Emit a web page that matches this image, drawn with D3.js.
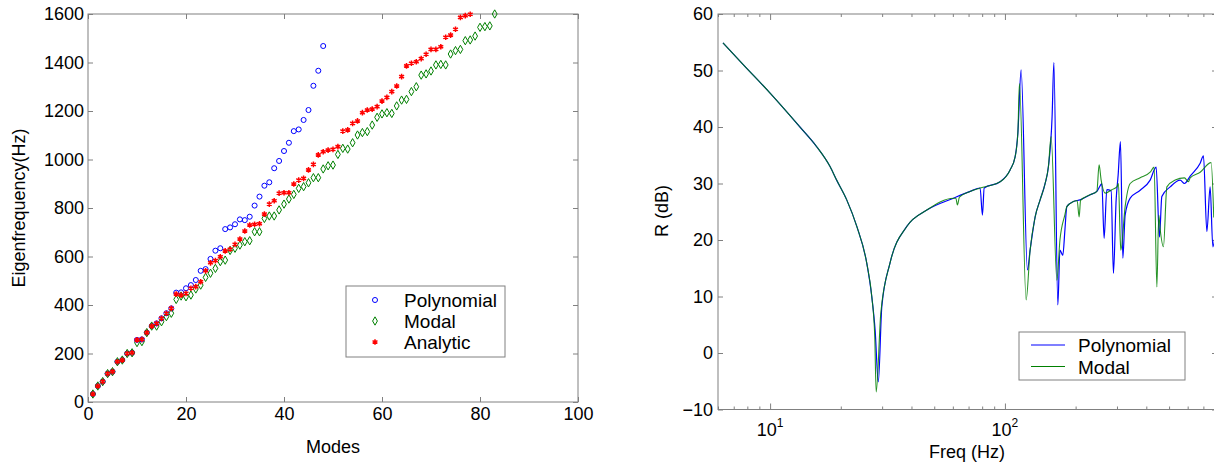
<!DOCTYPE html>
<html>
<head>
<meta charset="utf-8">
<script src="https://cdn.jsdelivr.net/npm/d3@7"></script>
<style>
  body { margin: 0; background: #fff; }
  svg text { font-family: "Liberation Sans", Arial, sans-serif; }
</style>
</head>
<body>
<svg id="chart" width="1214" height="468"></svg>
<script>
// ---- left panel : eigenfrequency per mode (mode number = index + 1) ----
const polyEig = [33, 66, 84, 117, 125, 166, 173, 200, 203, 256, 258, 286, 313, 324, 345, 366, 386,
  451, 452, 469, 482, 503, 541, 548, 590, 624, 634, 713, 720, 733, 753, 750, 764, 810, 847,
  892, 906, 964, 994, 1035, 1069, 1117, 1124, 1163, 1204, 1304, 1366, 1468];
const modalEig = [33, 66, 84, 117, 125, 166, 173, 200, 203, 245, 249, 286, 313, 313, 331, 352, 366,
  423, 437, 434, 441, 466, 482, 514, 531, 551, 579, 585, 625, 634, 647, 661, 665, 702, 702,
  757, 767, 767, 792, 816, 837, 856, 881, 888, 904, 925, 925, 961, 974, 977,
  1021, 1046, 1043, 1069, 1101, 1111, 1115, 1142, 1174, 1188, 1193, 1190, 1221, 1245, 1248, 1280,
  1300, 1348, 1353, 1365, 1390, 1392, 1390, 1435, 1449, 1454, 1490, 1493, 1509, 1545, 1548, 1551, 1600];
const analyticEig = [33, 66, 84, 117, 125, 166, 173, 200, 203, 256, 258, 286, 313, 324, 345, 366, 386,
  445, 441, 448, 469, 476, 496, 541, 574, 583, 599, 623, 630, 650, 672, 705, 730, 733, 735,
  775, 816, 830, 861, 863, 863, 899, 915, 922, 957, 980, 1019, 1032, 1039, 1042, 1053,
  1117, 1122, 1149, 1159, 1193, 1204, 1208, 1218, 1241, 1256, 1280, 1303, 1342, 1386, 1397, 1403,
  1416, 1434, 1454, 1454, 1465, 1504, 1513, 1537, 1586, 1593, 1599];
const modeTicks = [0, 20, 40, 60, 80, 100];
const eigTicks = [0, 200, 400, 600, 800, 1000, 1200, 1400, 1600];

// ---- right panel : R (dB) vs frequency ----
const polyFreq = [6.3, 7.7, 10, 13.4, 15.8, 18.0, 19.2, 21.2, 23.4, 25.8, 27.1, 28.0, 28.9, 29.9, 32.4, 38.2,
  46.5, 60.4, 71.1, 78.4, 80.2, 81.6, 95.4, 105.2, 110.5, 113.5, 117.2, 124.7, 128.0, 134.5, 141.2, 148.3,
  153.2, 158.8, 161.6, 168.0, 171.5, 176.4, 180.1, 183.5, 195.7, 209.0, 230.7, 246.3, 254.4, 258.6, 264.5,
  271.6, 283.3, 289.8, 297.6, 303.5, 310.4, 317.8, 325.0, 341.5, 376.6, 415.4, 440.5, 455.0, 465.8, 505.4,
  557.5, 581.5, 614.9, 678.3, 700.5, 724.3, 747.9, 768.0, 790];
const polyDb = [54.9, 51.0, 46.0, 40.0, 36.5, 33.0, 30.6, 27.1, 22.4, 15.9, 10.0, 4.1, -5.1, 8.2, 15.9, 22.4,
  25.3, 27.4, 28.6, 29.2, 24.4, 29.2, 30.3, 32.4, 34.7, 38.9, 50.1, 14.7, 18.2, 24.1, 27.1, 30.0,
  33.0, 41.8, 51.4, 8.5, 18.2, 17.3, 21.8, 25.9, 26.8, 27.1, 28.0, 28.6, 29.6, 30.0, 20.3,
  28.9, 28.7, 14.1, 27.1, 31.5, 37.4, 16.8, 24.4, 27.4, 28.8, 30.6, 32.9, 20.5, 27.7, 29.4,
  30.6, 30.0, 31.3, 33.6, 34.9, 21.5, 29.4, 18.8, 22];
const modalFreq = [6.3, 7.7, 10, 13.4, 15.8, 18.0, 19.2, 21.2, 23.4, 25.8, 27.1, 27.9, 28.3, 29.6, 32.4, 38.2,
  46.5, 60.4, 61.8, 62.8, 64.0, 71.1, 78.4, 95.4, 105.2, 110.5, 113.5, 115.3, 123.1, 128.0, 134.5, 141.2,
  148.3, 153.2, 157.3, 166.4, 171.5, 180.1, 183.5, 195.7, 203.0, 207.0, 210.0, 230.7, 246.3, 251.8, 256.9,
  267.2, 285.3, 299.7, 304.4, 309.5, 311.6, 325.0, 341.5, 376.6, 415.4, 431.9, 443.6, 452.0, 458.0, 473.2,
  489.3, 530.8, 581.5, 604.7, 614.9, 678.3, 755.3, 775];
const modalDb = [54.9, 51.0, 46.0, 40.0, 36.5, 33.0, 30.6, 27.1, 22.4, 15.9, 10.0, 3.0, -6.9, 7.0, 15.9, 22.4,
  25.3, 27.4, 27.4, 26.2, 27.6, 28.6, 29.2, 30.3, 32.4, 34.7, 38.9, 47.7, 9.4, 18.2, 24.1, 27.1,
  30.0, 33.0, 38.3, 12.9, 20.0, 24.5, 25.9, 26.8, 27.0, 24.1, 27.0, 28.0, 28.6, 33.3, 30.6,
  28.3, 28.9, 29.4, 30.0, 20.6, 18.2, 25.9, 30.0, 31.0, 32.0, 32.9, 11.7, 24.4, 22.0, 18.8,
  29.4, 30.6, 31.0, 30.3, 31.0, 32.0, 33.7, 24];
const dbTicks = [-10, 0, 10, 20, 30, 40, 50, 60];
const freqMajor = [10, 100];
const freqMinor = [6, 7, 8, 9, 20, 30, 40, 50, 60, 70, 80, 90, 200, 300, 400, 500, 600, 700, 800];

const FONT = '"Liberation Sans", Arial, sans-serif';
const GREY = "#808080";
const svg = d3.select("#chart");

function styleAxis(g) {
  g.attr("font-family", FONT).attr("font-size", 18);
  g.select(".domain").remove();
  g.selectAll("line").attr("stroke", GREY);
  g.selectAll("text").attr("fill", "#000");
}

// ================= left panel =================
const xL = d3.scaleLinear().domain([0, 100]).range([88, 578]);
const yL = d3.scaleLinear().domain([0, 1600]).range([402, 14]);

svg.append("g").attr("transform", "translate(0,402)")
  .call(d3.axisBottom(xL).tickValues(modeTicks).tickSizeInner(-5).tickSizeOuter(0).tickPadding(5).tickFormat(d3.format("d")))
  .call(styleAxis);
svg.append("g").attr("transform", "translate(0,14)")
  .call(d3.axisTop(xL).tickValues(modeTicks).tickSizeInner(-5).tickSizeOuter(0).tickFormat(""))
  .call(styleAxis);
svg.append("g").attr("transform", "translate(88,0)")
  .call(d3.axisLeft(yL).tickValues(eigTicks).tickSizeInner(-5).tickSizeOuter(0).tickPadding(4).tickFormat(d3.format("d")))
  .call(styleAxis);
svg.append("g").attr("transform", "translate(578,0)")
  .call(d3.axisRight(yL).tickValues(eigTicks).tickSizeInner(-5).tickSizeOuter(0).tickFormat(""))
  .call(styleAxis);
svg.append("rect").attr("x", 88).attr("y", 14).attr("width", 490).attr("height", 388)
  .attr("fill", "none").attr("stroke", GREY);

const circleSym = d3.symbol(d3.symbolCircle, 20);
const diamondSym = d3.symbol(d3.symbolDiamond, 20);
const starSym = d3.symbol(d3.symbolAsterisk, 22);

svg.append("g").selectAll("path").data(polyEig).join("path")
  .attr("d", circleSym)
  .attr("transform", (d, i) => `translate(${xL(i + 1)},${yL(d)})`)
  .attr("fill", "none").attr("stroke", "#0000ff").attr("stroke-width", 1);
svg.append("g").selectAll("path").data(modalEig).join("path")
  .attr("d", diamondSym)
  .attr("transform", (d, i) => `translate(${xL(i + 1)},${yL(d)})`)
  .attr("fill", "none").attr("stroke", "#008000").attr("stroke-width", 1);
svg.append("g").selectAll("path").data(analyticEig).join("path")
  .attr("d", starSym)
  .attr("transform", (d, i) => `translate(${xL(i + 1)},${yL(d)})`)
  .attr("fill", "none").attr("stroke", "#ff0000").attr("stroke-width", 1.5);

svg.append("text").attr("x", xL(50)).attr("y", 453).attr("text-anchor", "middle")
  .attr("font-size", 18).text("Modes");
svg.append("text").attr("transform", "translate(25,208) rotate(-90)").attr("text-anchor", "middle")
  .attr("font-size", 18).text("Eigenfrequency(Hz)");

// legend (left)
const legL = svg.append("g");
legL.append("rect").attr("x", 346).attr("y", 286).attr("width", 159).attr("height", 71)
  .attr("fill", "#fff").attr("stroke", GREY);
const legLItems = [
  { name: "Polynomial", sym: circleSym, color: "#0000ff", sw: 1 },
  { name: "Modal", sym: diamondSym, color: "#008000", sw: 1 },
  { name: "Analytic", sym: starSym, color: "#ff0000", sw: 1.5 }
];
legLItems.forEach((it, i) => {
  const cy = 300 + i * 21;
  legL.append("path").attr("d", it.sym).attr("transform", `translate(375,${cy})`)
    .attr("fill", "none").attr("stroke", it.color).attr("stroke-width", it.sw);
  legL.append("text").attr("x", 404).attr("y", cy + 7).attr("font-size", 19).text(it.name);
});

// ================= right panel =================
const xR = d3.scaleLog().domain([6, 800]).range([718, 1217]);
const yR = d3.scaleLinear().domain([-10, 60]).range([409.5, 14]);

svg.append("g").attr("transform", "translate(0,409.5)")
  .call(d3.axisBottom(xR).tickValues(freqMinor).tickSizeInner(-3).tickSizeOuter(0).tickFormat(""))
  .call(styleAxis);
svg.append("g").attr("transform", "translate(0,409.5)")
  .call(d3.axisBottom(xR).tickValues(freqMajor).tickSizeInner(-6).tickSizeOuter(0).tickFormat(""))
  .call(styleAxis);
svg.append("g").attr("transform", "translate(0,14)")
  .call(d3.axisTop(xR).tickValues(freqMinor).tickSizeInner(-3).tickSizeOuter(0).tickFormat(""))
  .call(styleAxis);
svg.append("g").attr("transform", "translate(0,14)")
  .call(d3.axisTop(xR).tickValues(freqMajor).tickSizeInner(-6).tickSizeOuter(0).tickFormat(""))
  .call(styleAxis);
svg.append("g").attr("transform", "translate(718,0)")
  .call(d3.axisLeft(yR).tickValues(dbTicks).tickSizeInner(-5).tickSizeOuter(0).tickPadding(5))
  .call(styleAxis);
svg.append("g").attr("transform", "translate(1217,0)")
  .call(d3.axisRight(yR).tickValues(dbTicks).tickSizeInner(-5).tickSizeOuter(0).tickFormat(""))
  .call(styleAxis);
svg.append("rect").attr("x", 718).attr("y", 14).attr("width", 499).attr("height", 395.5)
  .attr("fill", "none").attr("stroke", GREY);

// 10^n labels
freqMajor.forEach(f => {
  const t = svg.append("text").attr("x", xR(f)).attr("y", 436).attr("text-anchor", "middle")
    .attr("font-size", 18);
  t.append("tspan").text("10");
  t.append("tspan").attr("dy", -9).attr("font-size", 12).text(String(Math.round(Math.log10(f))));
});

svg.append("defs").append("clipPath").attr("id", "clipR")
  .append("rect").attr("x", 718).attr("y", 14).attr("width", 499).attr("height", 395.5);

const lineR = d3.line().x(d => xR(d[0])).y(d => yR(d[1])).curve(d3.curveMonotoneX);
const plotR = svg.append("g").attr("clip-path", "url(#clipR)");
plotR.append("path").datum(d3.zip(polyFreq, polyDb)).attr("d", lineR)
  .attr("fill", "none").attr("stroke", "#0000ff").attr("stroke-width", 1.2);
plotR.append("path").datum(d3.zip(modalFreq, modalDb)).attr("d", lineR)
  .attr("fill", "none").attr("stroke", "#008000").attr("stroke-width", 1.1)
  .attr("stroke-opacity", 0.85);

svg.append("text").attr("x", 967).attr("y", 458).attr("text-anchor", "middle")
  .attr("font-size", 18).text("Freq (Hz)");
svg.append("text").attr("transform", "translate(668,211) rotate(-90)").attr("text-anchor", "middle")
  .attr("font-size", 18).text("R (dB)");

// legend (right)
const legR = svg.append("g");
legR.append("rect").attr("x", 1019).attr("y", 332).attr("width", 166).attr("height", 48)
  .attr("fill", "#fff").attr("stroke", GREY);
[{ name: "Polynomial", color: "#0000ff" }, { name: "Modal", color: "#008000" }].forEach((it, i) => {
  const cy = 345 + i * 21.5;
  legR.append("line").attr("x1", 1031).attr("x2", 1065).attr("y1", cy).attr("y2", cy)
    .attr("stroke", it.color).attr("stroke-width", 1.2);
  legR.append("text").attr("x", 1078).attr("y", cy + 7).attr("font-size", 19).text(it.name);
});
</script>
</body>
</html>
